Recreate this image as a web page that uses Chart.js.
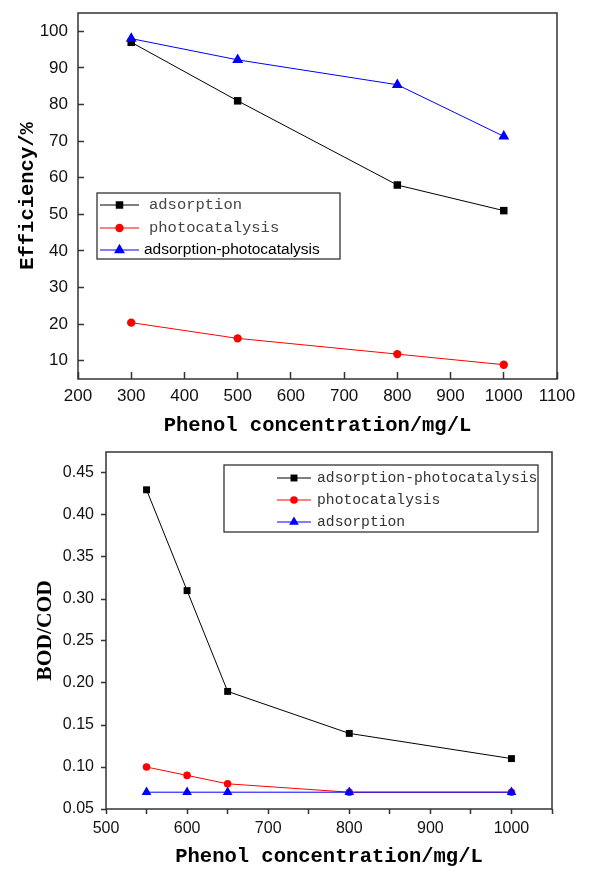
<!DOCTYPE html>
<html>
<head>
<meta charset="utf-8">
<script src="https://cdn.jsdelivr.net/npm/chart.js@4.4.1/dist/chart.umd.min.js"></script>
<style>
  body { margin: 0; background: #fff; }
  #wrap { position: relative; width: 590px; height: 873px; }
  canvas { position: absolute; left: 0; display: block; }
</style>
</head>
<body>
<div id="wrap">
  <canvas id="top" width="590" height="440" style="top:0"></canvas>
  <canvas id="bottom" width="590" height="433" style="top:440px"></canvas>
</div>
<script>
// top panel: removal efficiency
const topX = [300, 500, 800, 1000];
const topAdsorption = [97, 81, 58, 51];
const topPhotocatalysis = [20.4, 16.1, 11.8, 8.9];
const topCombined = [98, 92.2, 85.4, 71.3];
const topXTicks = [200, 300, 400, 500, 600, 700, 800, 900, 1000, 1100];
const topYTicks = [10, 20, 30, 40, 50, 60, 70, 80, 90, 100];

// bottom panel: BOD/COD ratio
const botX = [550, 600, 650, 800, 1000];
const botCombined = [0.43, 0.31, 0.19, 0.14, 0.11];
const botPhotocatalysis = [0.10, 0.09, 0.08, 0.07, 0.07];
const botAdsorption = [0.07, 0.07, 0.07, 0.07, 0.07];
const botXTicks = [500, 550, 600, 650, 700, 750, 800, 850, 900, 950, 1000, 1050];
const botXLabels = [500, 600, 700, 800, 900, 1000];
const botYTicks = [0.05, 0.10, 0.15, 0.20, 0.25, 0.30, 0.35, 0.40, 0.45];

const AXIS = '#333';

// box round the plot area
const frame = {
  id: 'frame',
  afterDraw(chart) {
    const { ctx, chartArea: a } = chart;
    ctx.save();
    ctx.strokeStyle = AXIS;
    ctx.lineWidth = 1.5;
    ctx.strokeRect(a.left, a.top, a.right - a.left, a.bottom - a.top);
    ctx.restore();
  }
};

// legend with line + marker samples, Origin style
const lineLegend = {
  id: 'lineLegend',
  afterDraw(chart, args, opts) {
    const ctx = chart.ctx;
    const b = opts.box;
    ctx.save();
    ctx.fillStyle = '#fff';
    ctx.fillRect(b.x, b.y, b.w, b.h);
    ctx.strokeStyle = '#222';
    ctx.lineWidth = 1.2;
    ctx.strokeRect(b.x, b.y, b.w, b.h);
    chart.data.datasets.forEach((ds, i) => {
      const y = opts.rows[i];
      ctx.strokeStyle = ds.borderColor;
      ctx.lineWidth = 1;
      ctx.beginPath();
      ctx.moveTo(opts.lineX[0], y);
      ctx.lineTo(opts.lineX[1], y);
      ctx.stroke();
      ctx.fillStyle = ds.backgroundColor;
      Chart.helpers.drawPoint(ctx, {
        pointStyle: ds.pointStyle, radius: ds.pointRadius, rotation: 0, borderWidth: 0
      }, (opts.lineX[0] + opts.lineX[1]) / 2, y);
      const f = opts.fonts[i];
      ctx.font = f.font;
      ctx.fillStyle = f.color;
      ctx.textAlign = 'left';
      ctx.textBaseline = 'middle';
      ctx.fillText(ds.label, f.x, y);
    });
    ctx.restore();
  }
};

function series(label, xs, ys, color, style, radius, order) {
  return {
    label: label,
    data: xs.map((x, i) => ({ x: x, y: ys[i] })),
    borderColor: color,
    backgroundColor: color,
    borderWidth: 1,
    pointStyle: style,
    pointRadius: radius,
    pointBorderWidth: 0,
    tension: 0,
    order: order
  };
}

const tickFont = (size) => ({ family: 'Liberation Sans, Arial', size: size, lineHeight: 1.2 });

// fixed box size, no extra padding from the tick labels
function fixBox(size) {
  return (s) => {
    if (s.isHorizontal()) s.height = size; else s.width = size;
    s.paddingTop = 0; s.paddingBottom = 0; s.paddingLeft = 0; s.paddingRight = 0;
  };
}

new Chart(document.getElementById('top'), {
  type: 'line',
  data: {
    datasets: [
      series('adsorption', topX, topAdsorption, '#000000', 'rect', 5.3, 2),
      series('photocatalysis', topX, topPhotocatalysis, '#ff0000', 'circle', 4.2, 1),
      series('adsorption-photocatalysis', topX, topCombined, '#0000ff', 'triangle', 6.3, 0)
    ]
  },
  options: {
    responsive: false,
    animation: false,
    devicePixelRatio: 1,
    layout: { padding: { left: 0, right: 33, top: 13, bottom: 0 } },
    plugins: {
      legend: { display: false },
      tooltip: { enabled: false },
      lineLegend: {
        box: { x: 97, y: 193, w: 243, h: 66 },
        rows: [205, 228, 250],
        lineX: [100, 139],
        fonts: [
          { x: 149, font: '15.5px "Liberation Mono"', color: '#444' },
          { x: 149, font: '15.5px "Liberation Mono"', color: '#444' },
          { x: 144, font: '15.5px "Liberation Sans"', color: '#000' }
        ]
      }
    },
    scales: {
      x: {
        type: 'linear',
        min: 200,
        max: 1100,
        afterBuildTicks: (s) => { s.ticks = topXTicks.map(v => ({ value: v })); },
        afterFit: fixBox(61),
        border: { display: false },
        grid: { drawOnChartArea: false, drawTicks: true, tickLength: -7, tickColor: AXIS, tickWidth: 1.5 },
        ticks: {
          autoSkip: false, maxRotation: 0, padding: 14.5, color: '#111', font: tickFont(17),
          callback: (v) => String(v)
        },
        title: {
          display: true,
          text: 'Phenol concentration/mg/L',
          color: '#000',
          font: { family: 'Liberation Mono', size: 20.5, weight: 'bold', lineHeight: 1.2 },
          padding: { top: 0, bottom: 2 }
        }
      },
      y: {
        type: 'linear',
        min: 5,
        max: 105,
        afterBuildTicks: (s) => { s.ticks = topYTicks.map(v => ({ value: v })); },
        afterFit: fixBox(78),
        border: { display: false },
        grid: { drawOnChartArea: false, drawTicks: true, tickLength: -6, tickColor: AXIS, tickWidth: 1.5 },
        ticks: { autoSkip: false, padding: 16, color: '#111', font: tickFont(17), callback: (v) => String(v) },
        title: {
          display: true,
          text: 'Efficiency/%',
          color: '#000',
          font: { family: 'Liberation Mono', size: 20.5, weight: 'bold', lineHeight: 1.2 },
          padding: { top: 16, bottom: 0 }
        }
      }
    }
  },
  plugins: [frame, lineLegend]
});

new Chart(document.getElementById('bottom'), {
  type: 'line',
  data: {
    datasets: [
      series('adsorption-photocatalysis', botX, botCombined, '#000000', 'rect', 4.9, 2),
      series('photocatalysis', botX, botPhotocatalysis, '#ff0000', 'circle', 3.8, 1),
      series('adsorption', botX, botAdsorption, '#0000ff', 'triangle', 5.6, 0)
    ]
  },
  options: {
    responsive: false,
    animation: false,
    devicePixelRatio: 1,
    layout: { padding: { left: 0, right: 38, top: 12, bottom: 0 } },
    plugins: {
      legend: { display: false },
      tooltip: { enabled: false },
      lineLegend: {
        box: { x: 224, y: 25, w: 314, h: 67 },
        rows: [38, 60, 82],
        lineX: [277, 311],
        fonts: [
          { x: 317, font: '14.7px "Liberation Mono"', color: '#333' },
          { x: 317, font: '14.7px "Liberation Mono"', color: '#333' },
          { x: 317, font: '14.7px "Liberation Mono"', color: '#333' }
        ]
      }
    },
    scales: {
      x: {
        type: 'linear',
        min: 500,
        max: 1050,
        afterBuildTicks: (s) => { s.ticks = botXTicks.map(v => ({ value: v })); },
        afterFit: fixBox(64),
        border: { display: false },
        grid: { drawOnChartArea: false, drawTicks: true, tickLength: 5, tickColor: AXIS, tickWidth: 1.5 },
        ticks: {
          autoSkip: false, maxRotation: 0, padding: 5, color: '#111', font: tickFont(16),
          callback: (v) => botXLabels.includes(v) ? String(v) : ''
        },
        title: {
          display: true,
          text: 'Phenol concentration/mg/L',
          color: '#000',
          font: { family: 'Liberation Mono', size: 20.5, weight: 'bold', lineHeight: 1.2 },
          padding: { top: 0, bottom: 3.5 }
        }
      },
      y: {
        type: 'linear',
        min: 0.05,
        max: 0.475,
        afterBuildTicks: (s) => { s.ticks = botYTicks.map(v => ({ value: v })); },
        afterFit: fixBox(106),
        border: { display: false },
        grid: { drawOnChartArea: false, drawTicks: true, tickLength: 5, tickColor: AXIS, tickWidth: 1.5 },
        ticks: {
          autoSkip: false, padding: 7, color: '#111', font: tickFont(16),
          callback: (v) => v.toFixed(2)
        },
        title: {
          display: true,
          text: 'BOD/COD',
          color: '#000',
          font: { family: 'Liberation Serif', size: 21.5, weight: 'bold', lineHeight: 1.2 },
          padding: { top: 33, bottom: 0 }
        }
      }
    }
  },
  plugins: [frame, lineLegend]
});
</script>
</body>
</html>
